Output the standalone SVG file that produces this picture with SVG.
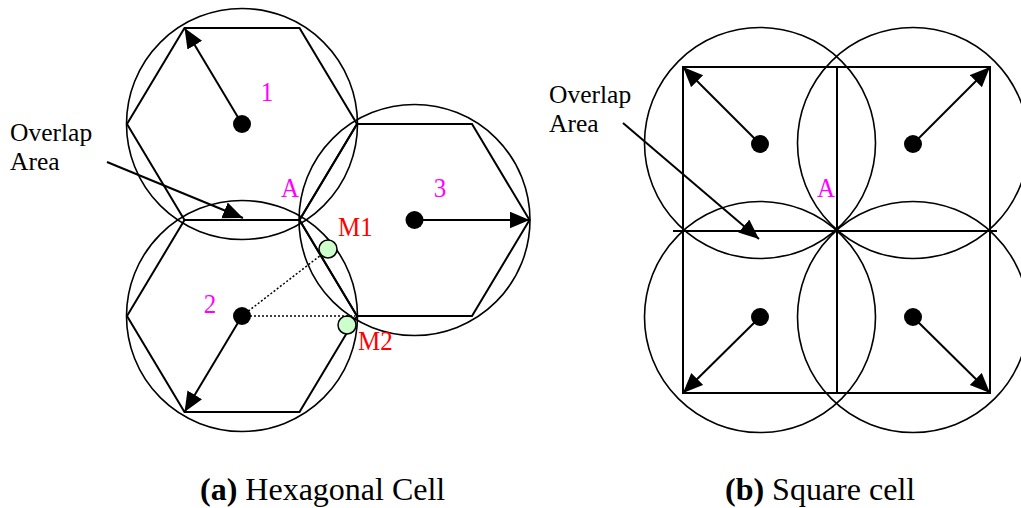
<svg xmlns="http://www.w3.org/2000/svg" width="1021" height="508" viewBox="0 0 1021 508">
<style>
.c{fill:none;stroke:#000;stroke-width:1.6}
.h{fill:none;stroke:#000;stroke-width:2}
.l{fill:none;stroke:#000;stroke-width:2}
.a{fill:none;stroke:#000;stroke-width:2;marker-end:url(#ah)}
.d{fill:none;stroke:#000;stroke-width:1.5;stroke-dasharray:2 2}
.dot{fill:#000}
.g{fill:#ccffcc;stroke:#000;stroke-width:1.5}
.t{font-family:"Liberation Serif","Times New Roman",serif}
.m{fill:#ff00ff;font-size:25px}
.r{fill:#ff0000;font-size:25px}
.o{fill:#000;font-size:25.5px}
.cap{fill:#000;font-size:32px}
</style>
<defs>
<marker id="ah" markerUnits="userSpaceOnUse" markerWidth="21" markerHeight="18" refX="20" refY="8.5" orient="auto">
<path d="M0,0 L20,8.5 L0,17 z" fill="#000"/>
</marker>
</defs>
<rect width="1021" height="508" fill="#fff"/>

<!-- (a) Hexagonal cells -->
<g id="cell1">
<circle class="c" cx="242" cy="124" r="115.5"/>
<polygon class="h" points="127,124 184.5,28 299.5,28 357,124 299.5,220 184.5,220"/>
<circle class="dot" cx="242" cy="124" r="9"/>
<text class="t m" transform="translate(267 101) scale(1 1.1)" text-anchor="middle">1</text>
</g>
<g id="cell2">
<circle class="c" cx="242" cy="316" r="115.5"/>
<polygon class="h" points="127,316 184.5,220 299.5,220 357,316 299.5,412 184.5,412"/>
<circle class="dot" cx="242" cy="316" r="9"/>
<text class="t m" transform="translate(210 313) scale(1 1.1)" text-anchor="middle">2</text>
</g>
<g id="cell3">
<circle class="c" cx="414.5" cy="220" r="115.5"/>
<polygon class="h" points="299.5,220 357,124 472,124 529.5,220 472,316 357,316"/>
<circle class="dot" cx="414.5" cy="220" r="9"/>
<text class="t m" transform="translate(440 197) scale(1 1.1)" text-anchor="middle">3</text>
</g>
<g id="pointA-hex">
<text class="t m" transform="translate(290 197) scale(1 1.1)" text-anchor="middle">A</text>
</g>
<g id="M1">
<circle class="g" cx="328" cy="249" r="9"/>
<text class="t r" transform="translate(338 236) scale(1 1.1)">M1</text>
</g>
<g id="M2">
<circle class="g" cx="347" cy="325" r="9"/>
<text class="t r" transform="translate(358 350) scale(1 1.1)">M2</text>
</g>
<g id="label-overlap-a">
<text class="t o" x="10" y="141">Overlap</text>
<text class="t o" x="10" y="170">Area</text>
</g>

<!-- (b) Square cells -->
<g id="sq-grid">
<rect class="l" x="683" y="67" width="307" height="326"/>
<line class="l" x1="837" y1="67" x2="837" y2="393"/>
<line class="l" x1="673" y1="231" x2="997" y2="231"/>
</g>
<g id="sq1">
<circle class="c" cx="760" cy="143" r="115.5"/>
<circle class="dot" cx="760" cy="144" r="9"/>
</g>
<g id="sq2">
<circle class="c" cx="913" cy="143" r="115.5"/>
<circle class="dot" cx="913" cy="144" r="9"/>
</g>
<g id="sq3">
<circle class="c" cx="760" cy="317" r="115.5"/>
<circle class="dot" cx="760" cy="317" r="9"/>
</g>
<g id="sq4">
<circle class="c" cx="913" cy="317" r="115.5"/>
<circle class="dot" cx="913" cy="317" r="9"/>
</g>
<g id="pointA-sq">
<text class="t m" transform="translate(826 197) scale(1 1.1)" text-anchor="middle">A</text>
</g>
<g id="label-overlap-b">
<text class="t o" x="549" y="103">Overlap</text>
<text class="t o" x="549" y="132">Area</text>
</g>

<!-- connectors -->
<g id="connectors">
<line class="a" x1="242" y1="124" x2="184.5" y2="28"/>
<line class="a" x1="242" y1="316" x2="184.5" y2="412"/>
<line class="a" x1="414.5" y1="220" x2="529.5" y2="220"/>
<line class="a" x1="107" y1="162" x2="243" y2="218"/>
<line class="d" x1="242" y1="316" x2="321" y2="255"/>
<line class="d" x1="242" y1="316" x2="355" y2="316"/>
<line class="a" x1="760" y1="144" x2="683" y2="67"/>
<line class="a" x1="913" y1="144" x2="990" y2="67"/>
<line class="a" x1="760" y1="317" x2="683" y2="393"/>
<line class="a" x1="913" y1="317" x2="990" y2="393"/>
<line class="a" x1="623" y1="123" x2="759" y2="239"/>
</g>

<g id="captions">
<text class="t cap" x="200" y="500"><tspan font-weight="bold">(a)</tspan> Hexagonal Cell</text>
<text class="t cap" x="725" y="500"><tspan font-weight="bold">(b)</tspan> Square cell</text>
</g>
</svg>
